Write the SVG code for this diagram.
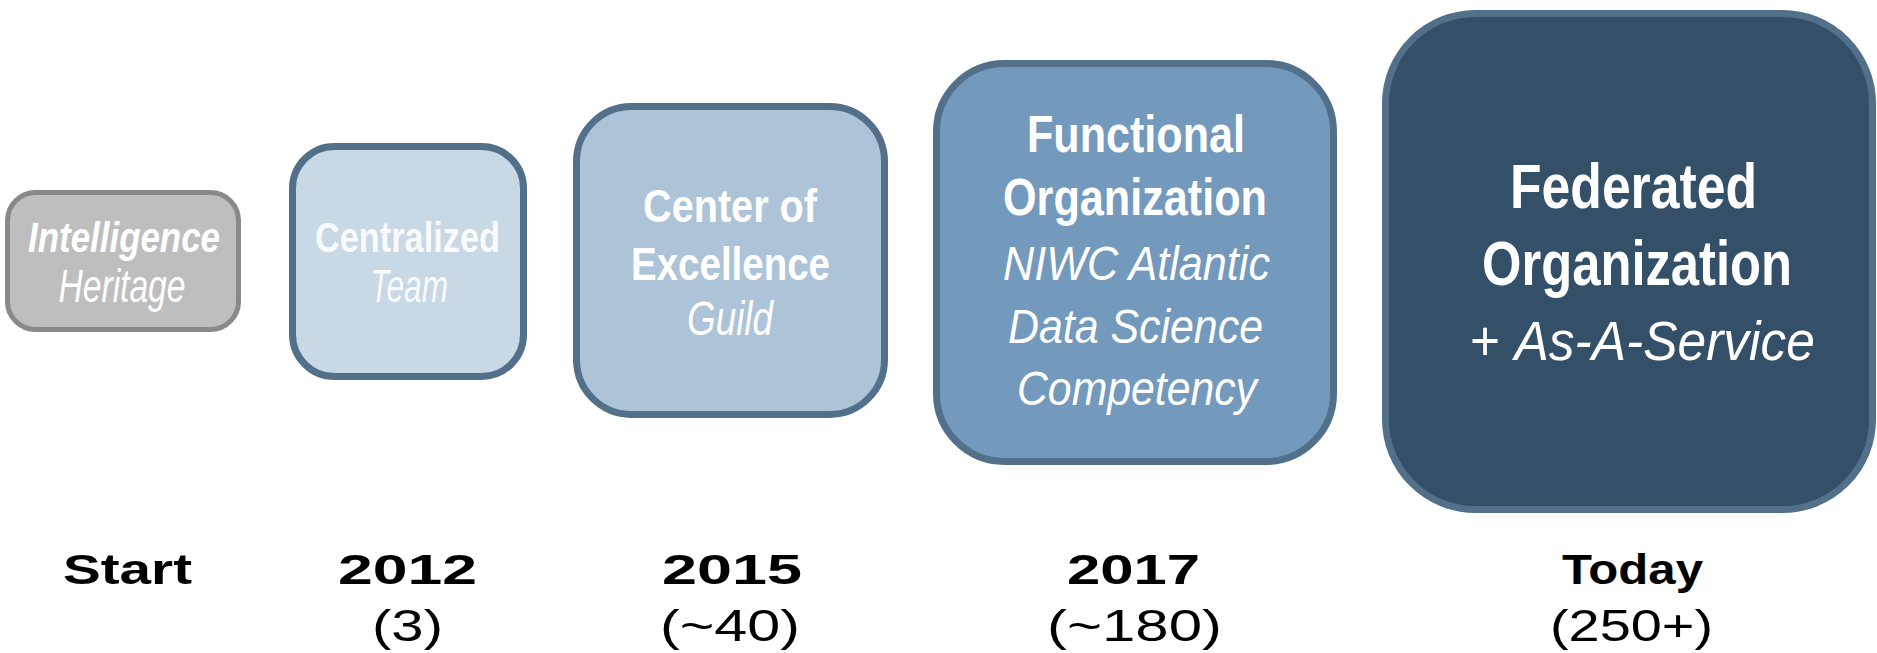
<svg xmlns="http://www.w3.org/2000/svg" width="1877" height="653" viewBox="0 0 1877 653">
<style>
.box{stroke:#52708a;stroke-width:7}
.t{font-family:"Liberation Sans",Arial,sans-serif;fill:#ffffff;text-anchor:middle}
.b{font-weight:bold}
.i{font-style:italic}
.lbl{font-family:"Liberation Sans",Arial,sans-serif;fill:#000000;text-anchor:middle}
</style>
<rect width="1877" height="653" fill="#ffffff"/>
<g id="connectors"></g>
<g id="node-start">
<rect x="7.5" y="192.5" width="231" height="137" rx="28" fill="#bebebe" stroke="#898989" stroke-width="5"/>
<text class="t b i" x="124" y="252" font-size="43" textLength="192" lengthAdjust="spacingAndGlyphs">Intelligence</text>
<text class="t i" x="122" y="302" font-size="46" textLength="127" lengthAdjust="spacingAndGlyphs">Heritage</text>
</g>
<g id="node-2012">
<rect class="box" x="292.5" y="146.5" width="231" height="230" rx="42" fill="#c8d8e5"/>
<text class="t b" x="407.5" y="252" font-size="43" textLength="185" lengthAdjust="spacingAndGlyphs" fill-opacity="0.9">Centralized</text>
<text class="t i" x="409" y="302" font-size="46" textLength="78" lengthAdjust="spacingAndGlyphs" fill-opacity="0.9">Team</text>
</g>
<g id="node-2015">
<rect class="box" x="576.5" y="106.5" width="308" height="308" rx="55" fill="#adc3d7"/>
<text class="t b" x="730" y="222" font-size="46" textLength="174" lengthAdjust="spacingAndGlyphs">Center of</text>
<text class="t b" x="730.5" y="280" font-size="46" textLength="199" lengthAdjust="spacingAndGlyphs">Excellence</text>
<text class="t i" x="730" y="335" font-size="49" textLength="86" lengthAdjust="spacingAndGlyphs">Guild</text>
</g>
<g id="node-2017">
<rect class="box" x="936.5" y="63.5" width="397" height="398" rx="68" fill="#7399bd"/>
<text class="t b" x="1136" y="152" font-size="52" textLength="218" lengthAdjust="spacingAndGlyphs">Functional</text>
<text class="t b" x="1135" y="215" font-size="52" textLength="264" lengthAdjust="spacingAndGlyphs">Organization</text>
<text class="t i" x="1136.5" y="280" font-size="48" textLength="267" lengthAdjust="spacingAndGlyphs">NIWC Atlantic</text>
<text class="t i" x="1135.5" y="343" font-size="48" textLength="255" lengthAdjust="spacingAndGlyphs">Data Science</text>
<text class="t i" x="1137" y="405" font-size="48" textLength="240" lengthAdjust="spacingAndGlyphs">Competency</text>
</g>
<g id="node-today">
<rect class="box" x="1385.5" y="13.5" width="487" height="496" rx="90" fill="#344f68"/>
<text class="t b" x="1633.5" y="208" font-size="63" textLength="247" lengthAdjust="spacingAndGlyphs">Federated</text>
<text class="t b" x="1637" y="285" font-size="63" textLength="310" lengthAdjust="spacingAndGlyphs">Organization</text>
<text class="t" x="1642.5" y="360" font-size="55" textLength="345" lengthAdjust="spacingAndGlyphs">+ <tspan class="i">As-A-Service</tspan></text>
</g>
<g id="labels">
<text class="lbl b" x="127.5" y="584" font-size="43" textLength="129" lengthAdjust="spacingAndGlyphs">Start</text>
<text class="lbl b" x="407.5" y="584" font-size="43" textLength="139" lengthAdjust="spacingAndGlyphs">2012</text>
<text class="lbl" x="407.5" y="641" font-size="44" textLength="71" lengthAdjust="spacingAndGlyphs">(3)</text>
<text class="lbl b" x="732" y="584" font-size="43" textLength="140" lengthAdjust="spacingAndGlyphs">2015</text>
<text class="lbl" x="730" y="641" font-size="44" textLength="140" lengthAdjust="spacingAndGlyphs">(~40)</text>
<text class="lbl b" x="1133.5" y="584" font-size="43" textLength="133" lengthAdjust="spacingAndGlyphs">2017</text>
<text class="lbl" x="1134.5" y="641" font-size="44" textLength="175" lengthAdjust="spacingAndGlyphs">(~180)</text>
<text class="lbl b" x="1632.5" y="584" font-size="43" textLength="141" lengthAdjust="spacingAndGlyphs">Today</text>
<text class="lbl" x="1631.5" y="641" font-size="44" textLength="163" lengthAdjust="spacingAndGlyphs">(250+)</text>
</g>
</svg>
